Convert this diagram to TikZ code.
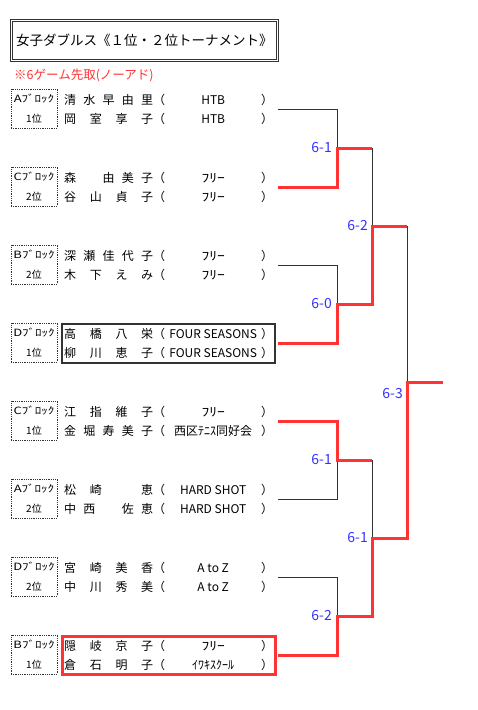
\documentclass[tikz,border=0pt]{standalone}
\usepackage{fontspec}
\setmainfont{Noto Sans CJK JP}
\usetikzlibrary{positioning,fit}

\definecolor{winred}{RGB}{255,51,51}
\definecolor{scoreblue}{RGB}{51,51,255}
\definecolor{linegray}{RGB}{51,51,51}

\newcommand{\pname}[1]{\makebox[89pt][s]{#1}}
\newcommand{\pclub}[1]{\makebox[96pt]{#1}}
\newcommand{\prow}[2]{\pname{#1}（\pclub{#2}）}
\newcommand{\hw}[1]{\scalebox{1.3}[1]{#1}}

\begin{document}
\begin{tikzpicture}[x=1pt, y=-1pt,
    row/.style={anchor=west, inner sep=0pt, font=\fontsize{12pt}{14pt}\selectfont},
    blk/.style={draw=linegray, densely dotted, line width=0.8pt, align=center, minimum width=46pt, minimum height=39pt, inner sep=0pt, font=\fontsize{10pt}{20pt}\selectfont},
    score/.style={text=scoreblue, inner sep=0pt, font=\fontsize{14pt}{16pt}\selectfont},
    lose/.style={draw=linegray, line width=0.8pt},
    win/.style={draw=winred, line width=3pt}]
    \useasboundingbox (0,0) rectangle (478,710);

    \node [draw=linegray, double, double distance=1.6pt, line width=0.7pt, minimum width=266pt, minimum height=40pt, inner sep=0pt, font=\fontsize{13.5pt}{16pt}\selectfont] (title) at (144.5,40.5) {女子ダブルス《１位・２位トーナメント》};
    \node [anchor=west, inner sep=0pt, text=winred, font=\fontsize{12.5pt}{14pt}\selectfont] (rule) at (14,75) {※6ゲーム先取(ノーアド)};

    \node [blk] (b1) at (34,108.5) {\hw{Aﾌﾞﾛｯｸ}\\1位};
    \node [row] (p1a) at (64,100) {\prow{清 水 早 由 里}{HTB}};
    \node [row] (p1b) at (64,119) {\prow{岡 室 享 子}{HTB}};

    \node [blk] (b2) at (34,186.5) {\hw{Cﾌﾞﾛｯｸ}\\2位};
    \node [row] (p2a) at (64,178) {\prow{森 \phantom{由} 由 美 子}{\hw{ﾌﾘｰ}}};
    \node [row] (p2b) at (64,197) {\prow{谷 山 貞 子}{\hw{ﾌﾘｰ}}};

    \node [blk] (b3) at (34,264.5) {\hw{Bﾌﾞﾛｯｸ}\\2位};
    \node [row] (p3a) at (64,256) {\prow{深 瀬 佳 代 子}{\hw{ﾌﾘｰ}}};
    \node [row] (p3b) at (64,275) {\prow{木 下 え み}{\hw{ﾌﾘｰ}}};

    \node [blk] (b4) at (34,342.5) {\hw{Dﾌﾞﾛｯｸ}\\1位};
    \node [row] (p4a) at (64,334) {\prow{高 橋 八 栄}{FOUR SEASONS}};
    \node [row] (p4b) at (64,353) {\prow{柳 川 恵 子}{FOUR SEASONS}};
    \node [draw=linegray, line width=2pt, inner xsep=2pt, inner ysep=4pt, fit=(p4a)(p4b)] (box4) {};

    \node [blk] (b5) at (34,420.5) {\hw{Cﾌﾞﾛｯｸ}\\1位};
    \node [row] (p5a) at (64,412) {\prow{江 指 維 子}{\hw{ﾌﾘｰ}}};
    \node [row] (p5b) at (64,431) {\prow{金 堀 寿 美 子}{西区ﾃﾆｽ同好会}};

    \node [blk] (b6) at (34,498.5) {\hw{Aﾌﾞﾛｯｸ}\\2位};
    \node [row] (p6a) at (64,490) {\prow{松 崎 \phantom{恵} 恵}{HARD SHOT}};
    \node [row] (p6b) at (64,509) {\prow{中 西 \phantom{佐} 佐 恵}{HARD SHOT}};

    \node [blk] (b7) at (34,576.5) {\hw{Dﾌﾞﾛｯｸ}\\2位};
    \node [row] (p7a) at (64,568) {\prow{宮 崎 美 香}{A to Z}};
    \node [row] (p7b) at (64,587) {\prow{中 川 秀 美}{A to Z}};

    \node [blk] (b8) at (34,654.5) {\hw{Bﾌﾞﾛｯｸ}\\1位};
    \node [row] (p8a) at (64,646) {\prow{隠 岐 京 子}{\hw{ﾌﾘｰ}}};
    \node [row] (p8b) at (64,665) {\prow{倉 石 明 子}{ｲﾜｷｽｸｰﾙ}};
    \node [draw=winred, line width=3pt, inner xsep=2pt, inner ysep=4pt, fit=(p8a)(p8b)] (box8) {};

    \coordinate (s1) at (278,109);
    \coordinate (s2) at (278,187);
    \coordinate (s3) at (278,265);
    \coordinate (s4) at (278,343);
    \coordinate (s5) at (278,421);
    \coordinate (s6) at (278,499);
    \coordinate (s7) at (278,577);
    \coordinate (s8) at (278,655);
    \coordinate (m1) at (337,148);
    \coordinate (m2) at (337,304);
    \coordinate (m3) at (337,460);
    \coordinate (m4) at (337,616);
    \coordinate (q1) at (372,226);
    \coordinate (q2) at (372,538);
    \coordinate (f) at (407,382);
    \coordinate (champ) at (443,382);

    \draw [lose] (s1) -| (m1);
    \draw [lose] (s3) -| (m2);
    \draw [lose] (s6) -| (m3);
    \draw [lose] (s7) -| (m4);
    \draw [lose] (m1 -| q1) -- (q1);
    \draw [lose] (m3 -| q2) -- (q2);
    \draw [lose] (q1 -| f) -- (f);

    \draw [win] (s2) -| (m1) -- (m1 -| q1);
    \draw [win] (s4) -| (m2) -| (q1) -- (q1 -| f);
    \draw [win] (s5) -| (m3) -- (m3 -| q2);
    \draw [win] (s8) -| (m4) -| (q2) -| (f) -- (champ);

    \node [score, left=5pt of m1] (sc1) {6-1};
    \node [score, left=5pt of m2] (sc2) {6-0};
    \node [score, left=5pt of m3] (sc3) {6-1};
    \node [score, left=5pt of m4] (sc4) {6-2};
    \node [score, left=4pt of q1] (sc5) {6-2};
    \node [score, left=4pt of q2] (sc6) {6-1};
    \node [score, below left=6pt and 4pt of f] (sc7) {6-3};
\end{tikzpicture}
\end{document}
